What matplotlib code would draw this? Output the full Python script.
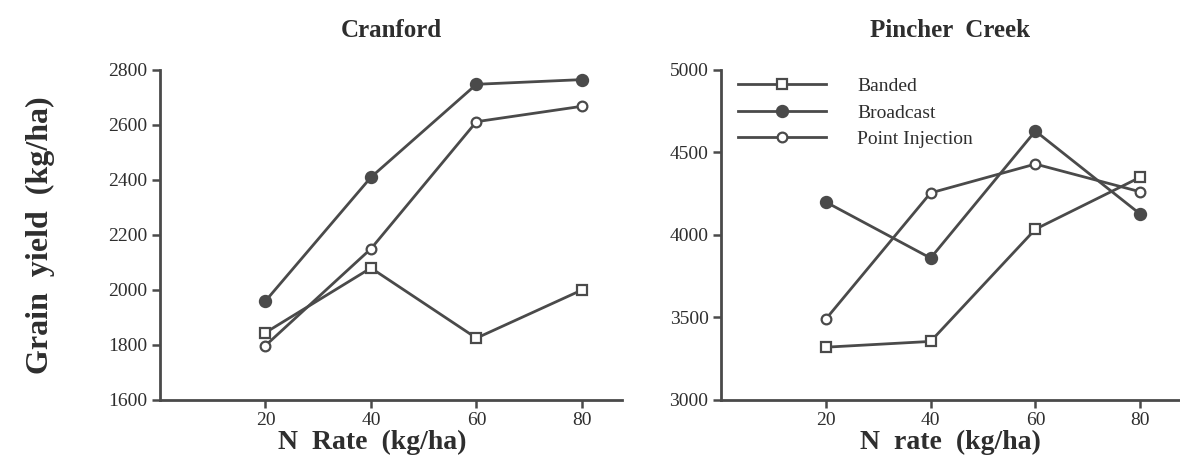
import matplotlib.pyplot as plt

# N rates and grain yields (kg/ha)
n_rate = [20, 40, 60, 80]

cranford_banded = [1845, 2080, 1825, 2000]
cranford_broadcast = [1960, 2410, 2748, 2765]
cranford_point = [1798, 2150, 2612, 2668]

pincher_banded = [3320, 3355, 4035, 4350]
pincher_broadcast = [4200, 3860, 4630, 4127]
pincher_point = [3490, 4255, 4430, 4262]

series_names = ['Banded', 'Broadcast', 'Point Injection']

plt.rcParams['font.family'] = ['Liberation Serif', 'DejaVu Serif']

ink = '#4a4a4a'
txt = '#2e2e2e'
styles = [
    dict(marker='s', markerfacecolor='white', markersize=7),
    dict(marker='o', markerfacecolor=ink, markersize=8),
    dict(marker='o', markerfacecolor='white', markersize=7),
]

fig = plt.figure(figsize=(11.8, 4.62), dpi=100)
ax1 = fig.add_axes([0.1356, 0.1342, 0.3915, 0.7143])
ax2 = fig.add_axes([0.611, 0.1342, 0.389, 0.7143])


def draw(ax, data, title, xlabel, ylim, yticks):
    for vals, name, st in zip(data, series_names, styles):
        ax.plot(n_rate, vals, color=ink, lw=2.0, markeredgecolor=ink,
                markeredgewidth=1.6, label=name, **st)
    ax.set_xlim(0, 87.6)
    ax.set_ylim(*ylim)
    ax.set_xticks(n_rate)
    ax.set_yticks(yticks)
    for s in ['top', 'right']:
        ax.spines[s].set_visible(False)
    for s in ['left', 'bottom']:
        ax.spines[s].set_linewidth(2.0)
        ax.spines[s].set_color(ink)
    ax.tick_params(direction='out', length=6, width=1.8, color=ink,
                   labelsize=14, labelcolor=txt, pad=3)
    ax.set_title(title, fontsize=18, fontweight='bold', color=txt, pad=24)
    ax.set_xlabel(xlabel, fontsize=20, fontweight='bold', color=txt, labelpad=0)


draw(ax1, [cranford_banded, cranford_broadcast, cranford_point],
     'Cranford', 'N  Rate  (kg/ha)', (1600, 2800), range(1600, 2801, 200))
draw(ax2, [pincher_banded, pincher_broadcast, pincher_point],
     'Pincher  Creek', 'N  rate  (kg/ha)', (3000, 5000), range(3000, 5001, 500))

ax1.xaxis.label.set_x(0.46)
ax1.set_ylabel('Grain  yield  (kg/ha)', fontsize=23, fontweight='bold',
               color=txt, labelpad=38)

ax2.legend(loc='upper left', bbox_to_anchor=(0.0, 1.03), frameon=False,
           handlelength=4.5, handletextpad=1.6, labelspacing=0.45,
           fontsize=14, numpoints=1, labelcolor=txt)

fig.savefig('out.png', dpi=100)
